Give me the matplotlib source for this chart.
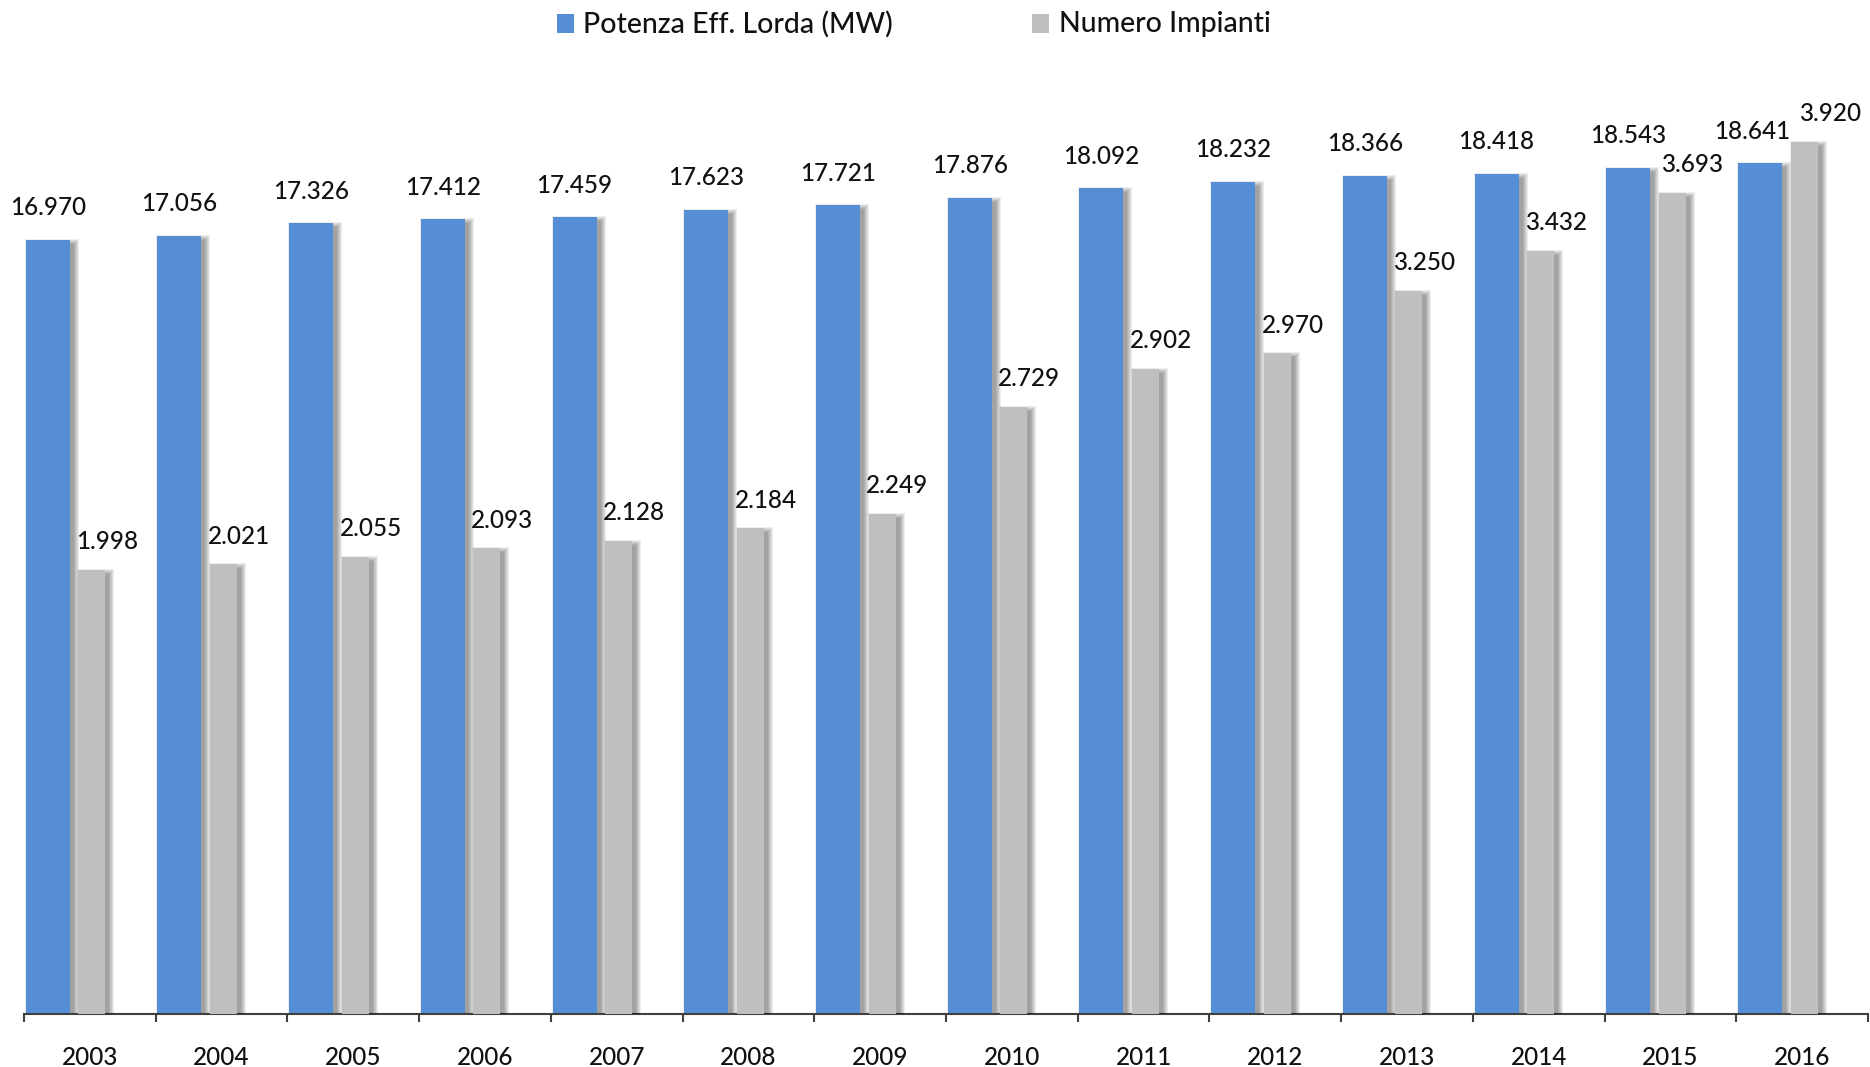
import matplotlib
matplotlib.use("Agg")
import matplotlib.pyplot as plt
from matplotlib.patches import Rectangle
import numpy as np

years = ["2003", "2004", "2005", "2006", "2007", "2008", "2009",
         "2010", "2011", "2012", "2013", "2014", "2015", "2016"]
potenza = [16970, 17056, 17326, 17412, 17459, 17623, 17721,
           17876, 18092, 18232, 18366, 18418, 18543, 18641]
impianti = [1998, 2021, 2055, 2093, 2128, 2184, 2249,
            2729, 2902, 2970, 3250, 3432, 3693, 3920]
series_names = ["Potenza Eff. Lorda (MW)", "Numero Impianti"]

BLUE = "#558ED5"
GREY = "#BFBFBF"
TEXT = "#111111"

plt.rcParams['font.family'] = ['Lato', 'DejaVu Sans']

W, H = 1870, 1067
fig = plt.figure(figsize=(W / 100, H / 100), dpi=100)
fig.patch.set_facecolor("white")

ax_left, ax_bottom_px, ax_w_px, ax_h_px = 24, 1014, 1844, 912.6
ax = fig.add_axes([ax_left / W, (H - ax_bottom_px) / H, ax_w_px / W, ax_h_px / H])
ax2 = ax.twinx()

n = len(years)
x = np.arange(n)
ax.set_xlim(0, n)
ax.set_ylim(0, 20000)
ax2.set_ylim(0, 4103)

px_x = n / ax_w_px            # data units per pixel (x)
px_y1 = 20000 / ax_h_px       # data units per pixel (primary y)
px_y2 = 4103 / ax_h_px        # data units per pixel (secondary y)

bw1, off1 = 0.334, 0.18
bw2, off2 = 0.205, 0.515


def shadows(a, xc, vals, w, pyu):
    for e in range(0, 6):
        for xi, v in zip(xc, vals):
            sx = xi + 4 * px_x
            a.add_patch(Rectangle((sx - w / 2 - e * px_x, 0),
                                  w + 2 * e * px_x, v - (4 - e) * pyu,
                                  facecolor="black", alpha=0.07,
                                  edgecolor="none", zorder=1))


shadows(ax, x + off1, potenza, bw1, px_y1)
ax.bar(x + off1, potenza, width=bw1, color=BLUE, zorder=2, linewidth=0)
shadows(ax2, x + off2, impianti, bw2, px_y2)
ax2.bar(x + off2, impianti, width=bw2, color=GREY, zorder=2, linewidth=0)


def fmt(v):
    return f"{v:,}".replace(",", ".")


LBL = dict(fontsize=17.5, color=TEXT, fontweight="medium")
for i, (xi, v) in enumerate(zip(x + off1, potenza)):
    dx = -6 if i == n - 1 else 0   # avoid collision with neighbouring label
    ax.annotate(fmt(v), (xi, v), xytext=(dx, 15), textcoords="offset points",
                ha="center", va="bottom", zorder=5, **LBL)
for i, (xi, v) in enumerate(zip(x + off2, impianti)):
    dx = 19 if i == n - 1 else (14 if i == n - 2 else 11)
    ax2.annotate(fmt(v), (xi, v), xytext=(dx, 12), textcoords="offset points",
                 ha="center", va="bottom", zorder=5, **LBL)

for a in (ax, ax2):
    for s in ("top", "left", "right"):
        a.spines[s].set_visible(False)
    a.set_yticks([])
ax2.spines["bottom"].set_visible(False)
ax.spines["bottom"].set_color("#404040")
ax.spines["bottom"].set_linewidth(1.5)
ax.spines["bottom"].set_zorder(6)

ax.set_xticks(np.arange(n + 1))
ax.set_xticklabels([])
ax.tick_params(axis="x", which="major", length=6, width=1.5, color="#404040", direction="out")
ax.set_xticks(x + 0.5, minor=True)
ax.set_xticklabels(years, minor=True, fontweight="medium")
ax.tick_params(axis="x", which="minor", length=0, pad=23, labelsize=17.5, labelcolor=TEXT)

# legend
leg_y = H - 24
fig.patches.append(Rectangle((557 / W, (H - 33) / H), 17 / W, 19 / H,
                             transform=fig.transFigure, facecolor=BLUE, edgecolor="none"))
fig.text(583 / W, leg_y / H, series_names[0], fontsize=20.5, va="center", ha="left",
         color=TEXT, fontweight="medium")
fig.patches.append(Rectangle((1032 / W, (H - 33) / H), 17 / W, 19 / H,
                             transform=fig.transFigure, facecolor=GREY, edgecolor="none"))
fig.text(1059 / W, leg_y / H, series_names[1], fontsize=20.5, va="center", ha="left",
         color=TEXT, fontweight="medium")

fig.savefig("out.png", dpi=100, facecolor="white")
